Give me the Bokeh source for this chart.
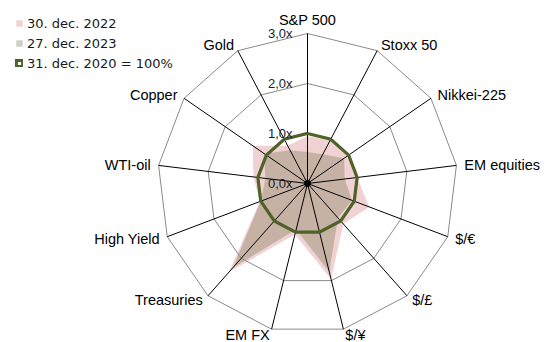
import numpy as np
from bokeh.plotting import figure
from bokeh.models import ColumnDataSource, Legend, LegendItem
from bokeh.core.properties import value
from bokeh.embed import file_html
from bokeh.resources import INLINE

# Asset performance relative to 31 Dec 2020 (= 1.0x)
categories = ["S&P 500", "Stoxx 50", "Nikkei-225", "EM equities", "$/€", "$/£", "$/¥",
              "EM FX", "Treasuries", "High Yield", "WTI-oil", "Copper", "Gold"]
dec_2022 = [0.95, 0.97, 0.98, 1.00, 1.32, 1.08, 1.97, 1.05, 2.37, 1.02, 1.09, 1.33, 0.85]
dec_2023 = [0.63, 0.66, 0.89, 0.75, 0.95, 0.92, 1.82, 0.95, 2.25, 1.00, 0.85, 1.05, 0.75]
dec_2020 = [1.0, 1.0, 1.0, 1.0, 1.0, 1.0, 1.0, 1.0, 1.0, 1.0, 1.0, 1.0, 1.0]
series_labels = ["30. dec. 2022", "27. dec. 2023", "31. dec. 2020 = 100%"]

ring_values = [1.0, 2.0, 3.0]
tick_values = [0.0, 1.0, 2.0, 3.0]
tick_labels = ["0,0x", "1,0x", "2,0x", "3,0x"]

W, H = 547, 342
CX, CY = 307, 183      # centre of the radar in pixels
PX = 50                # pixels per 1.0x
R_MAX = max(ring_values)

n = len(categories)
ang = np.pi / 2 - 2 * np.pi * np.arange(n) / n
ux, uy = np.cos(ang), np.sin(ang)


def polar(vals):
    v = np.asarray(vals, dtype=float)
    return list(v * ux), list(v * uy)


p = figure(width=W, height=H,
           x_range=(-CX / PX, (W - CX) / PX),
           y_range=(-(H - CY) / PX, CY / PX),
           x_axis_location=None, y_axis_location=None,
           output_backend="svg", toolbar_location=None,
           min_border=0, outline_line_color=None)
p.grid.visible = False
p.background_fill_color = "white"
p.border_fill_color = "white"

# filled series
x22, y22 = polar(dec_2022)
r22 = p.patch(x22, y22, fill_color="#f1d2d2", line_color=None)
x23, y23 = polar(dec_2023)
r23 = p.patch(x23, y23, fill_color=(112, 118, 78), fill_alpha=0.34, line_color=None)

# polygonal grid rings and spokes
ring_xs = [list(r * ux) + [r * ux[0]] for r in ring_values]
ring_ys = [list(r * uy) + [r * uy[0]] for r in ring_values]
p.multi_line(ring_xs, ring_ys, line_color="#8a8a8a", line_width=1)
p.segment(x0=[0.0] * n, y0=[0.0] * n, x1=list(R_MAX * ux), y1=list(R_MAX * uy),
          line_color="black", line_width=1)
p.scatter([0.0], [0.0], size=6, color="black")

# base line (31 Dec 2020)
x20, y20 = polar(dec_2020)
r20 = p.patch(x20, y20, fill_alpha=0, line_color="#4f6228", line_width=3.2,
              line_join="miter")

# radial tick labels
p.text(x=[-0.3] * len(tick_values), y=tick_values, text=tick_labels,
       text_font=value("Liberation Sans"), text_font_size="13px",
       text_color="#1a1a1a", text_align="right", text_baseline="middle")

# category labels around the outside
end_x, end_y = R_MAX * ux, R_MAX * uy
groups = {"left": [], "right": [], "center": []}
for i in range(n):
    if abs(ux[i]) < 0.1:
        groups["center"].append(i)
    elif ux[i] > 0:
        groups["left"].append(i)
    else:
        groups["right"].append(i)

for align, idx in groups.items():
    if not idx:
        continue
    src = ColumnDataSource(dict(
        x=[end_x[i] for i in idx],
        y=[end_y[i] for i in idx],
        t=[categories[i] for i in idx],
        xo=[ux[i] * 8 for i in idx],
        yo=[-uy[i] * 6 for i in idx],
    ))
    p.text(x="x", y="y", text="t", x_offset="xo", y_offset="yo", source=src,
           text_font=value("Liberation Sans"), text_font_size="14.5px",
           text_color="black", text_align=align,
           text_baseline="bottom" if align == "center" else "middle")

legend = Legend(items=[LegendItem(label=series_labels[0], renderers=[r22]),
                       LegendItem(label=series_labels[1], renderers=[r23]),
                       LegendItem(label=series_labels[2], renderers=[r20])],
                location=(15, H - 13 - 60),
                glyph_width=8, glyph_height=8, label_standoff=4,
                spacing=0, padding=0, margin=0, label_height=20,
                label_text_font="DejaVu Sans", label_text_font_size="13px",
                label_text_color="#1a1a1a",
                border_line_color=None, background_fill_alpha=0)
p.add_layout(legend)

open("out.html", "w").write(file_html(p, INLINE))
